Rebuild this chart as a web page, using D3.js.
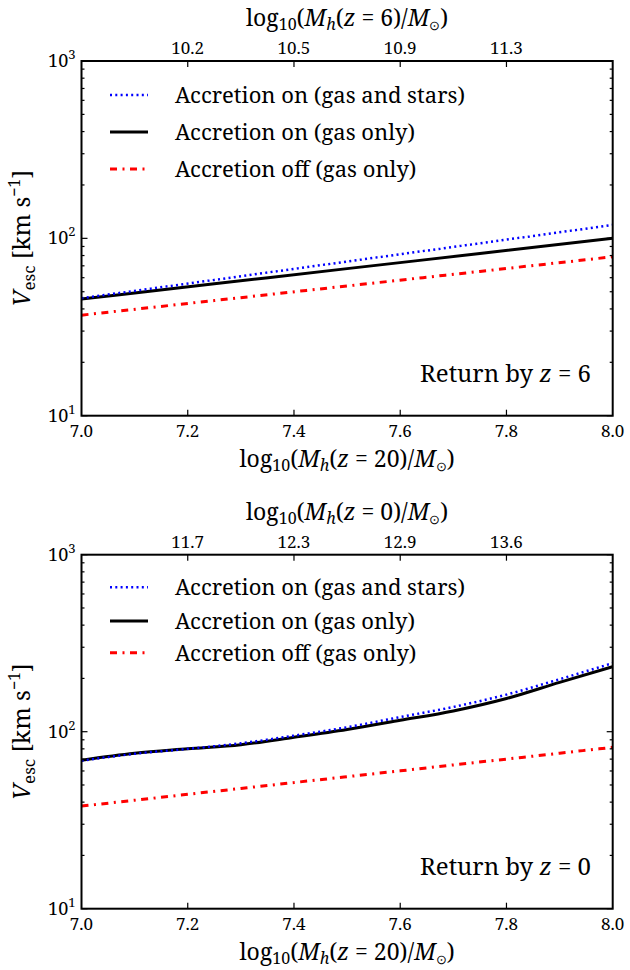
<!DOCTYPE html>
<html>
<head>
<meta charset="utf-8">
<script src="https://cdn.jsdelivr.net/npm/d3@7"></script>
<style>
  body { margin: 0; background: #fff; }
</style>
</head>
<body>
<script>
// values (log-log plot)
const xTop = [7.0, 7.25, 7.5, 7.75, 8.0];
const topGasStars = [46, 58.3, 74, 93.8, 119];
const topGasOnly = [45.5, 55.4, 67.5, 82.1, 100];
const topOff = [36.9, 44.6, 53.9, 65.1, 78.7];

const xBottom = [7.0, 7.1, 7.2, 7.3, 7.4, 7.5, 7.6, 7.7, 7.8, 7.9, 8.0];
const botGasStars = [68.5, 75, 80, 86, 95, 106, 121, 138, 162, 198, 244];
const botGasOnly = [69, 75.5, 80, 84.5, 93, 103, 116, 131, 154, 190, 233];
const botOff = [38, 41, 44.3, 47.8, 51.6, 55.7, 60.1, 64.9, 70, 75.6, 81.6];

const xTicks = [7.0, 7.2, 7.4, 7.6, 7.8, 8.0];
const secTickPos = [7.2, 7.4, 7.6, 7.8];
const secLabelsZ6 = ["10.2", "10.5", "10.9", "11.3"];
const secLabelsZ0 = ["11.7", "12.3", "12.9", "13.6"];
const yMajor = [10, 100, 1000];
const yExp = ["1", "2", "3"];
const yMinor = [20, 30, 40, 50, 60, 70, 80, 90, 200, 300, 400, 500, 600, 700, 800, 900];

const legendNames = ["Accretion on (gas and stars)", "Accretion on (gas only)", "Accretion off (gas only)"];

const W = 630, H = 970;
const left = 81.5, right = 612.7;
const FONT = "Noto Serif";

const svg = d3.select("body").append("svg")
    .attr("width", W).attr("height", H);

const x = d3.scaleLinear().domain([7, 8]).range([left, right]);

const styles = [
    {color: "#0000ff", width: 2.5, dash: "2,3.3"},
    {color: "#000000", width: 3, dash: null},
    {color: "#ff0000", width: 3, dash: "7,5.5,2,5.5"}
];

function txt(g, size) {
    return g.append("text").attr("font-family", FONT).attr("font-size", size);
}

function drawPanel(top, bottom, xs, series, secLabels, zLabel, retLabel, legendRows) {
    const y = d3.scaleLog().domain([10, 1000]).range([bottom, top]);
    const g = svg.append("g");

    const line = d3.line()
        .x((d, i) => x(xs[i]))
        .y(d => y(d))
        .curve(d3.curveMonotoneX);
    // red first, then black, blue on top
    [2, 1, 0].forEach(k => {
        g.append("path")
            .attr("d", line(series[k]))
            .attr("fill", "none")
            .attr("stroke", styles[k].color)
            .attr("stroke-width", styles[k].width)
            .attr("stroke-dasharray", styles[k].dash);
    });

    // x ticks (inside) on bottom and top
    g.selectAll(null).data(xTicks.slice(1, -1)).enter().append("line")
        .attr("x1", d => x(d)).attr("x2", d => x(d))
        .attr("y1", bottom).attr("y2", bottom - 6)
        .attr("stroke", "#000").attr("stroke-width", 1.2);
    g.selectAll(null).data(secTickPos).enter().append("line")
        .attr("x1", d => x(d)).attr("x2", d => x(d))
        .attr("y1", top).attr("y2", top + 6)
        .attr("stroke", "#000").attr("stroke-width", 1.2);
    xTicks.forEach(d => {
        txt(g, 17).attr("x", x(d)).attr("y", bottom + 21)
            .attr("text-anchor", "middle").text(d3.format(".1f")(d));
    });
    secTickPos.forEach((d, i) => {
        txt(g, 17).attr("x", x(d)).attr("y", top - 7)
            .attr("text-anchor", "middle").text(secLabels[i]);
    });

    // y ticks on both sides, inside
    [[left, 1], [right, -1]].forEach(([px, s]) => {
        g.selectAll(null).data(yMajor).enter().append("line")
            .attr("x1", px).attr("x2", px + s * 6)
            .attr("y1", d => y(d)).attr("y2", d => y(d))
            .attr("stroke", "#000").attr("stroke-width", 1.2);
        g.selectAll(null).data(yMinor).enter().append("line")
            .attr("x1", px).attr("x2", px + s * 3)
            .attr("y1", d => y(d)).attr("y2", d => y(d))
            .attr("stroke", "#000").attr("stroke-width", 1.2);
    });

    yMajor.forEach((v, i) => {
        const t = txt(g, 18)
            .attr("x", left - 6)
            .attr("y", y(v) + 6)
            .attr("text-anchor", "end");
        t.append("tspan").text("10");
        t.append("tspan").text(yExp[i]).attr("dy", -8).attr("font-size", 13);
    });

    g.append("rect")
        .attr("x", left).attr("y", top)
        .attr("width", right - left).attr("height", bottom - top)
        .attr("fill", "none").attr("stroke", "#000").attr("stroke-width", 2);

    massLabel(g, (left + right) / 2, bottom + 51, "20");
    massLabel(g, (left + right) / 2, top - 35, zLabel);

    const yl = txt(g, 24)
        .attr("transform", `translate(30,${(top + bottom) / 2}) rotate(-90)`)
        .attr("text-anchor", "middle");
    yl.append("tspan").text("V").attr("font-style", "italic");
    yl.append("tspan").text("esc").attr("dy", 5).attr("font-size", 17);
    yl.append("tspan").text(" [km s").attr("dy", -5);
    yl.append("tspan").text("\u22121").attr("dy", -10).attr("font-size", 16);
    yl.append("tspan").text("]").attr("dy", 10);

    legendNames.forEach((name, k) => {
        const ly = top + legendRows[k];
        g.append("line")
            .attr("x1", 110).attr("x2", 148)
            .attr("y1", ly).attr("y2", ly)
            .attr("stroke", styles[k].color)
            .attr("stroke-width", styles[k].width)
            .attr("stroke-dasharray", styles[k].dash);
        txt(g, 22)
            .attr("x", 175).attr("y", ly + 8)
            .text(name);
    });

    const ann = txt(g, 24)
        .attr("x", 591).attr("y", bottom - 34)
        .attr("text-anchor", "end");
    ann.append("tspan").text("Return by ");
    ann.append("tspan").text("z").attr("font-style", "italic");
    ann.append("tspan").text(" = " + retLabel);
}

function massLabel(g, cx, by, z) {
    const t = txt(g, 23)
        .attr("x", cx).attr("y", by)
        .attr("text-anchor", "middle");
    t.append("tspan").text("log");
    t.append("tspan").text("10").attr("dy", 4).attr("font-size", 16);
    t.append("tspan").text("(").attr("dy", -4);
    t.append("tspan").text("M").attr("font-style", "italic");
    t.append("tspan").text("h").attr("dy", 4).attr("font-size", 16).attr("font-style", "italic");
    t.append("tspan").text("(").attr("dy", -4);
    t.append("tspan").text("z").attr("font-style", "italic");
    t.append("tspan").text(" = " + z + ")/");
    t.append("tspan").text("M").attr("font-style", "italic");
    t.append("tspan").text("\u2299").attr("dy", 4).attr("font-size", 13);
    t.append("tspan").text(")").attr("dy", -4);
}

drawPanel(61, 415.7, xTop, [topGasStars, topGasOnly, topOff], secLabelsZ6, "6", "6", [34, 71, 108]);
drawPanel(554.7, 908.7, xBottom, [botGasStars, botGasOnly, botOff], secLabelsZ0, "0", "0", [32.6, 66.3, 98]);
</script>
</body>
</html>
